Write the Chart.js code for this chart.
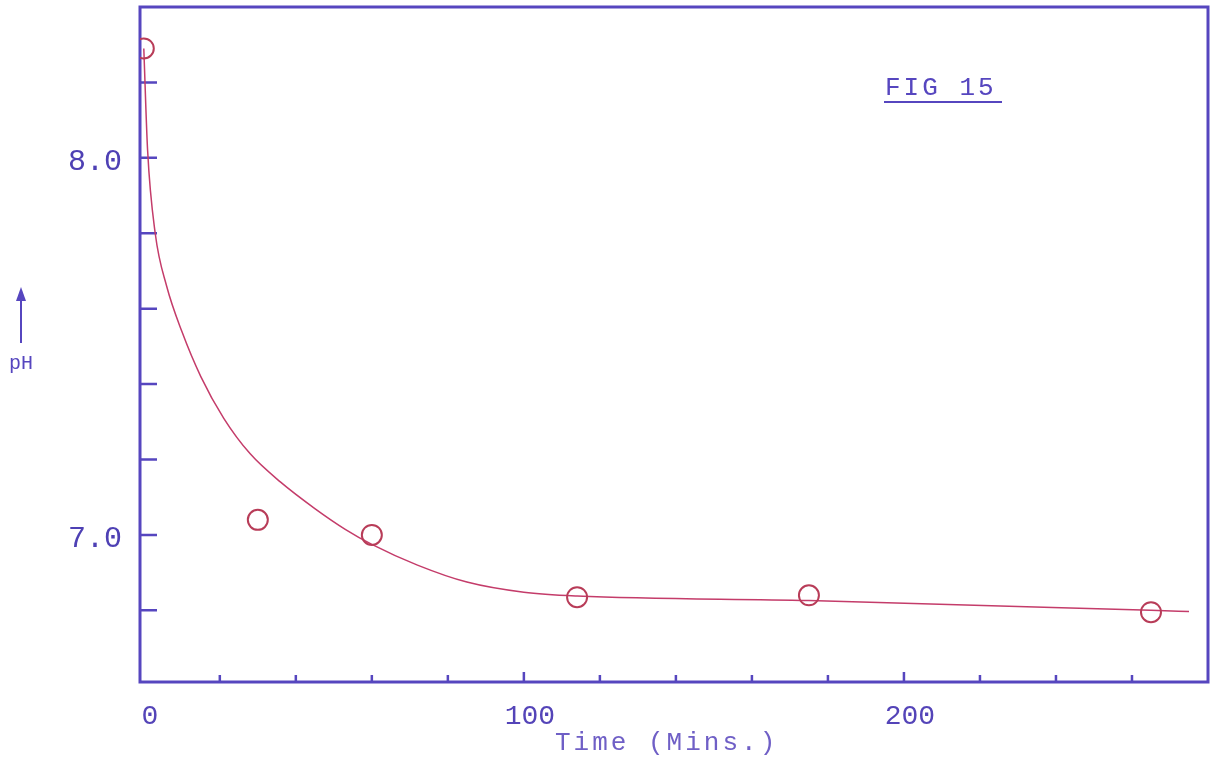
<!DOCTYPE html>
<html>
<head>
<meta charset="utf-8">
<title>FIG 15 – pH against time</title>
<script src="https://cdn.jsdelivr.net/npm/chart.js@4/dist/chart.umd.min.js"></script>
<style>
  html, body { margin: 0; padding: 0; background: #ffffff; }
  canvas { display: block; }
</style>
</head>
<body>
<canvas id="fig" width="1214" height="779"></canvas>
<script>
// Measured pH readings (time in minutes)
const timeMin  = [0, 30, 60, 114, 175, 265];
const pHValues = [8.29, 7.04, 7.00, 6.835, 6.84, 6.795];

// Points along the hand-drawn smooth curve
const curveTime = [0, 1, 3, 6, 10, 15, 21, 28, 36, 45, 53, 60, 72, 85, 100, 114, 175, 265, 275];
const curvePH   = [8.29, 8.02, 7.80, 7.66, 7.54, 7.42, 7.31, 7.215, 7.14, 7.07, 7.015, 6.975, 6.92, 6.875, 6.848, 6.838, 6.826, 6.80, 6.797];

// Axis ticks and the ones that carry labels
const xTickValues  = [20, 40, 60, 80, 100, 120, 140, 160, 180, 200, 220, 240, 260];
const xLabelValues = [0, 100, 200];
const xTickLabels  = ['0', '100', '200'];
const yTickValues  = [6.8, 7.0, 7.2, 7.4, 7.6, 7.8, 8.0, 8.2];
const yLabelValues = [7.0, 8.0];
const yTickLabels  = ['7.0', '8.0'];

const INK = '#5646bf';
const RED = '#c43c6a';

// Frame around the plot plus inward tick marks on the left and bottom sides
const framePlugin = {
  id: 'frame',
  beforeDatasetsDraw(chart) {
    const { ctx, chartArea: a, scales } = chart;
    ctx.save();
    ctx.strokeStyle = INK;
    ctx.lineWidth = 3;
    ctx.strokeRect(a.left, a.top, a.right - a.left, a.bottom - a.top);
    ctx.lineWidth = 2.5;
    ctx.beginPath();
    xTickValues.forEach(v => {
      const px = scales.x.getPixelForValue(v);
      const len = (v % 100 === 0) ? 10 : 7;
      ctx.moveTo(px, a.bottom);
      ctx.lineTo(px, a.bottom - len);
    });
    yTickValues.forEach(v => {
      const py = scales.y.getPixelForValue(v);
      ctx.moveTo(a.left, py);
      ctx.lineTo(a.left + 17, py);
    });
    ctx.stroke();
    ctx.restore();
  },
  afterDraw(chart) {
    const { ctx } = chart;
    ctx.save();
    // Figure caption, underlined
    ctx.fillStyle = INK;
    ctx.font = '26px "Liberation Mono", monospace';
    ctx.letterSpacing = '3px';
    ctx.textBaseline = 'alphabetic';
    ctx.textAlign = 'left';
    ctx.fillText('FIG 15', 885, 95);
    ctx.strokeStyle = INK;
    ctx.lineWidth = 2;
    ctx.beginPath();
    ctx.moveTo(884, 102);
    ctx.lineTo(1002, 102);
    ctx.stroke();

    // x axis title
    ctx.fillStyle = '#6f5fc6';
    ctx.font = '26px "Liberation Mono", monospace';
    ctx.letterSpacing = '3px';
    ctx.fillText('Time (Mins.)', 555, 750);

    // y axis label with upward arrow
    ctx.letterSpacing = '0px';
    ctx.fillStyle = INK;
    ctx.font = '20px "Liberation Mono", monospace';
    ctx.fillText('pH', 9, 369);
    ctx.strokeStyle = INK;
    ctx.lineWidth = 2;
    ctx.beginPath();
    ctx.moveTo(21, 343);
    ctx.lineTo(21, 295);
    ctx.stroke();
    ctx.beginPath();
    ctx.moveTo(21, 287);
    ctx.lineTo(16, 301);
    ctx.lineTo(26, 301);
    ctx.closePath();
    ctx.fill();
    ctx.restore();
  }
};

new Chart(document.getElementById('fig'), {
  type: 'scatter',
  data: {
    datasets: [
      {
        label: 'fitted curve',
        type: 'line',
        data: curveTime.map((t, i) => ({ x: t, y: curvePH[i] })),
        borderColor: RED,
        borderWidth: 1.5,
        pointRadius: 0,
        fill: false,
        cubicInterpolationMode: 'monotone',
        order: 2
      },
      {
        label: 'pH',
        data: timeMin.map((t, i) => ({ x: t, y: pHValues[i] })),
        pointStyle: 'circle',
        pointRadius: 10,
        pointBorderWidth: 2,
        pointBorderColor: '#b83c58',
        pointBackgroundColor: 'rgba(0,0,0,0)',
        order: 1
      }
    ]
  },
  options: {
    responsive: false,
    animation: false,
    layout: { autoPadding: false, padding: { top: 7, right: 6, left: 0, bottom: 0 } },
    plugins: {
      legend: { display: false },
      tooltip: { enabled: false },
      title: { display: false }
    },
    scales: {
      x: {
        type: 'linear',
        min: -1,
        max: 280,
        grid: { display: false, drawTicks: false },
        border: { display: false },
        afterBuildTicks: s => { s.ticks = xLabelValues.map(v => ({ value: v })); },
        afterFit: s => { s.height = 97; s.paddingLeft = 0; s.paddingRight = 0; },
        ticks: {
          autoSkip: false,
          maxRotation: 0,
          padding: 18,
          labelOffset: 6,
          color: '#5444b8',
          font: { family: '"Liberation Mono", monospace', size: 28 },
          callback: v => { const i = xLabelValues.indexOf(v); return i >= 0 ? xTickLabels[i] : ''; }
        }
      },
      y: {
        type: 'linear',
        min: 6.61,
        max: 8.40,
        grid: { display: false, drawTicks: false },
        border: { display: false },
        afterBuildTicks: s => { s.ticks = yLabelValues.map(v => ({ value: v })); },
        afterFit: s => { s.width = 140; s.paddingTop = 0; s.paddingBottom = 0; },
        ticks: {
          autoSkip: false,
          padding: 18,
          labelOffset: 4,
          color: '#4e40b4',
          font: { family: '"Liberation Mono", monospace', size: 30 },
          callback: v => { const i = yLabelValues.findIndex(w => Math.abs(w - v) < 1e-6); return i >= 0 ? yTickLabels[i] : ''; }
        }
      }
    }
  },
  plugins: [framePlugin]
});
</script>
</body>
</html>
